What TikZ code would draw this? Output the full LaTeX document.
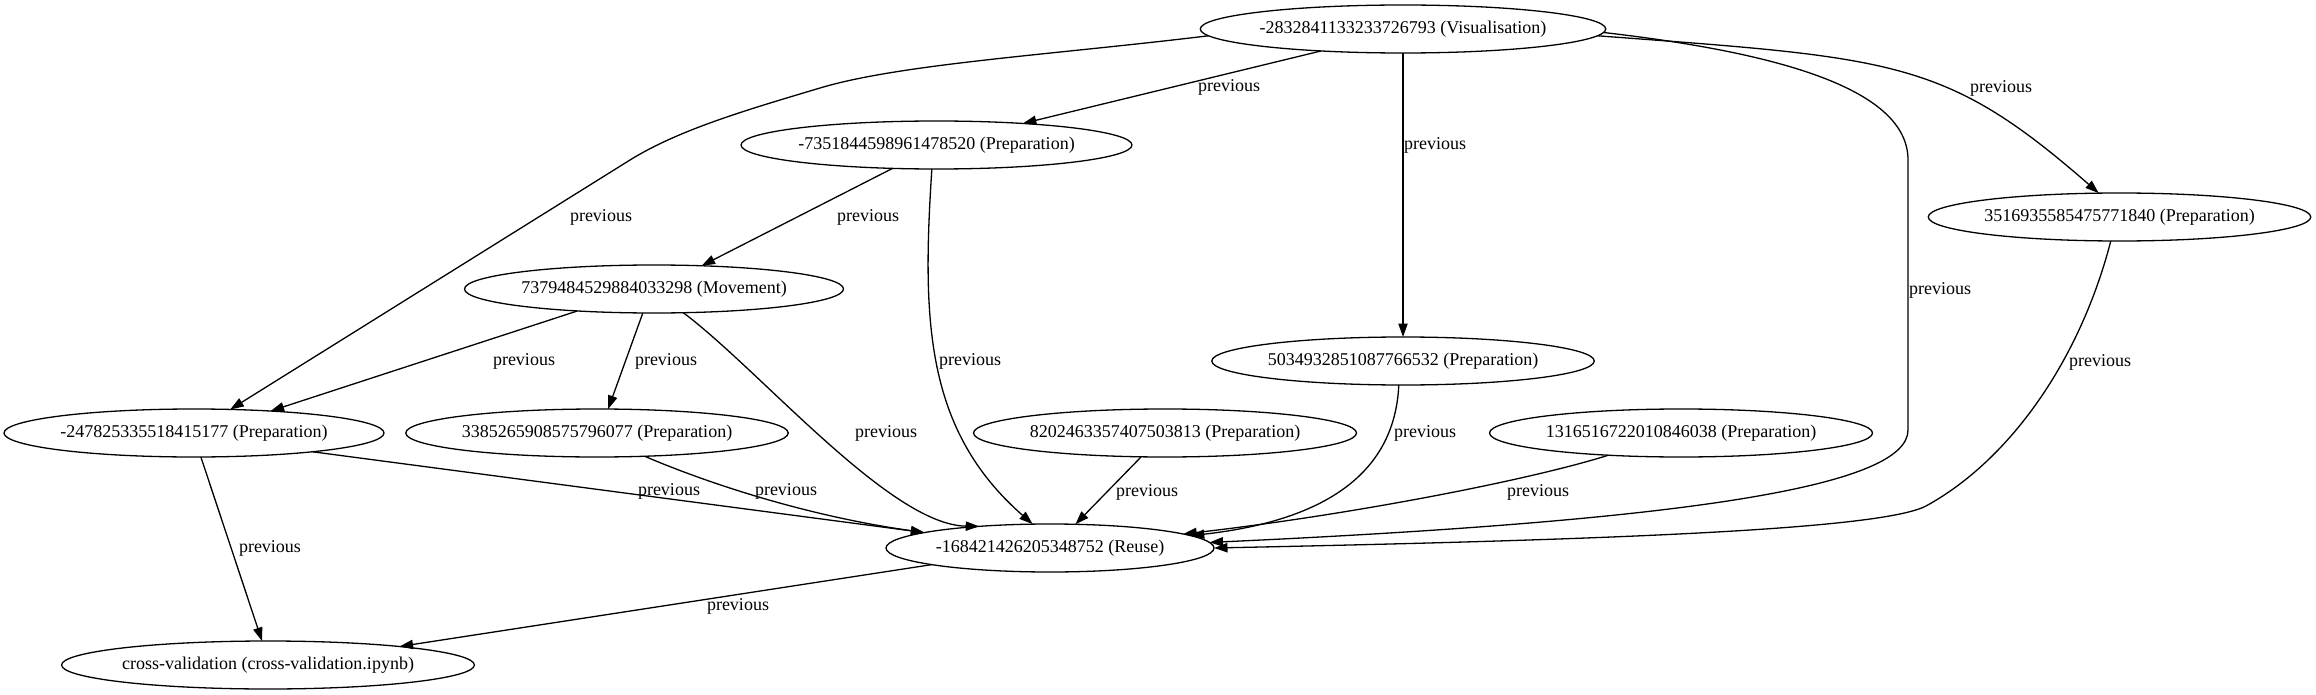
\documentclass[tikz,border=0pt]{standalone}
\usepackage{fontspec}
\setmainfont{Liberation Serif}
\usetikzlibrary{arrows.meta,shapes.geometric}
\tikzset{
  gnode/.style={draw, ellipse, line width=1.3pt, minimum height=48pt, inner sep=0pt, outer sep=0pt, font=\fontsize{18}{20}\selectfont},
  elab/.style={inner sep=0pt, font=\fontsize{18}{20}\selectfont},
  pe/.style={draw, line width=1.3pt, -{Triangle[length=13.5pt,width=9.3pt]}},
}
\begin{document}
\begin{tikzpicture}[x=1pt,y=-1pt]
\useasboundingbox (0,0) rectangle (2316,695);
\fill[white] (0,0) rectangle (2316,695);
% nodes
\node[gnode, minimum width=404pt] (V) at (1403,29) {-2832841133233726793 (Visualisation)};
\node[gnode, minimum width=389pt] (P735) at (936.5,145) {-7351844598961478520 (Preparation)};
\node[gnode, minimum width=379pt] (M737) at (654,289) {7379484529884033298 (Movement)};
\node[gnode, minimum width=382pt] (P351) at (2119.5,217) {3516935585475771840 (Preparation)};
\node[gnode, minimum width=380pt] (P503) at (1403,361) {5034932851087766532 (Preparation)};
\node[gnode, minimum width=380pt] (P247) at (194,433) {-247825335518415177 (Preparation)};
\node[gnode, minimum width=380pt] (P338) at (597,433) {3385265908575796077 (Preparation)};
\node[gnode, minimum width=383pt] (P820) at (1165,433) {8202463357407503813 (Preparation)};
\node[gnode, minimum width=383pt] (P131) at (1681,433) {1316516722010846038 (Preparation)};
\node[gnode, minimum width=328pt] (R) at (1050,548) {-168421426205348752 (Reuse)};
\node[gnode, minimum width=410pt] (CV) at (268,665) {cross-validation (cross-validation.ipynb)};
% edges
\draw[pe] (V.195.5) -- (P735.14);
\draw[pe] (V.182.7) .. controls (1050,55) and (900,64) .. (820,88) .. controls (750,109) and (680,129) .. (630,160) -- (P247.33.2);
\draw[pe] (V.south) -- (P503.north);
\draw[pe] (V.-1.7) .. controls (1800,55) and (1908,95) .. (1908,160) -- (1908,430) .. controls (1908,485) and (1700,520) .. (R.2.2);
\draw[pe] (V.-2.2) .. controls (1895,58) and (1945,59) .. (P351.131.9);
\draw[pe] (P735.-152.9) -- (M737.26.8);
\draw[pe] (P735.259.4) .. controls (922,320) and (925,430) .. (R.126.3);
\draw[pe] (M737.196.8) -- (P247.16.6);
\draw[pe] (M737.245.3) -- (P338.65.3);
\draw[pe] (M737.-39.3) .. controls (760,370) and (890,525) .. (R.163.3);
\draw[pe] (P247.-9.3) -- (R.173.6);
\draw[pe] (P338.-26.9) .. controls (700,480) and (800,515) .. (R.173.3);
\draw[pe] (P820.-135.2) -- (R.43.5);
\draw[pe] (P503.260.5) .. controls (1395,470) and (1330,520) .. (R.5.75);
\draw[pe] (P131.197.1) .. controls (1530,480) and (1350,515) .. (R.6);
\draw[pe] (P351.250.5) .. controls (2080,360) and (2010,460) .. (1926,506) .. controls (1880,530) and (1600,540) .. (R.0.5);
\draw[pe] (P247.286.3) -- (CV.104);
\draw[pe] (R.188.9) -- (CV.8.6);
% labels
\node[elab] (l1) at (1229,87) {previous};
\node[elab] (l2) at (601,217) {previous};
\node[elab] (l3) at (1435,145) {previous};
\node[elab] (l4) at (1940,290) {previous};
\node[elab] (l5) at (2001,88) {previous};
\node[elab] (l6) at (868,217) {previous};
\node[elab] (l7) at (970,361) {previous};
\node[elab] (l8) at (524,361) {previous};
\node[elab] (l9) at (666,361) {previous};
\node[elab] (l10) at (886,433) {previous};
\node[elab] (l11) at (669,491) {previous};
\node[elab] (l12) at (786,491) {previous};
\node[elab] (l13) at (1147,492) {previous};
\node[elab] (l14) at (1425,433) {previous};
\node[elab] (l15) at (1538,492) {previous};
\node[elab] (l16) at (2100,362) {previous};
\node[elab] (l17) at (270,548) {previous};
\node[elab] (l18) at (738,606) {previous};
\end{tikzpicture}
\end{document}
